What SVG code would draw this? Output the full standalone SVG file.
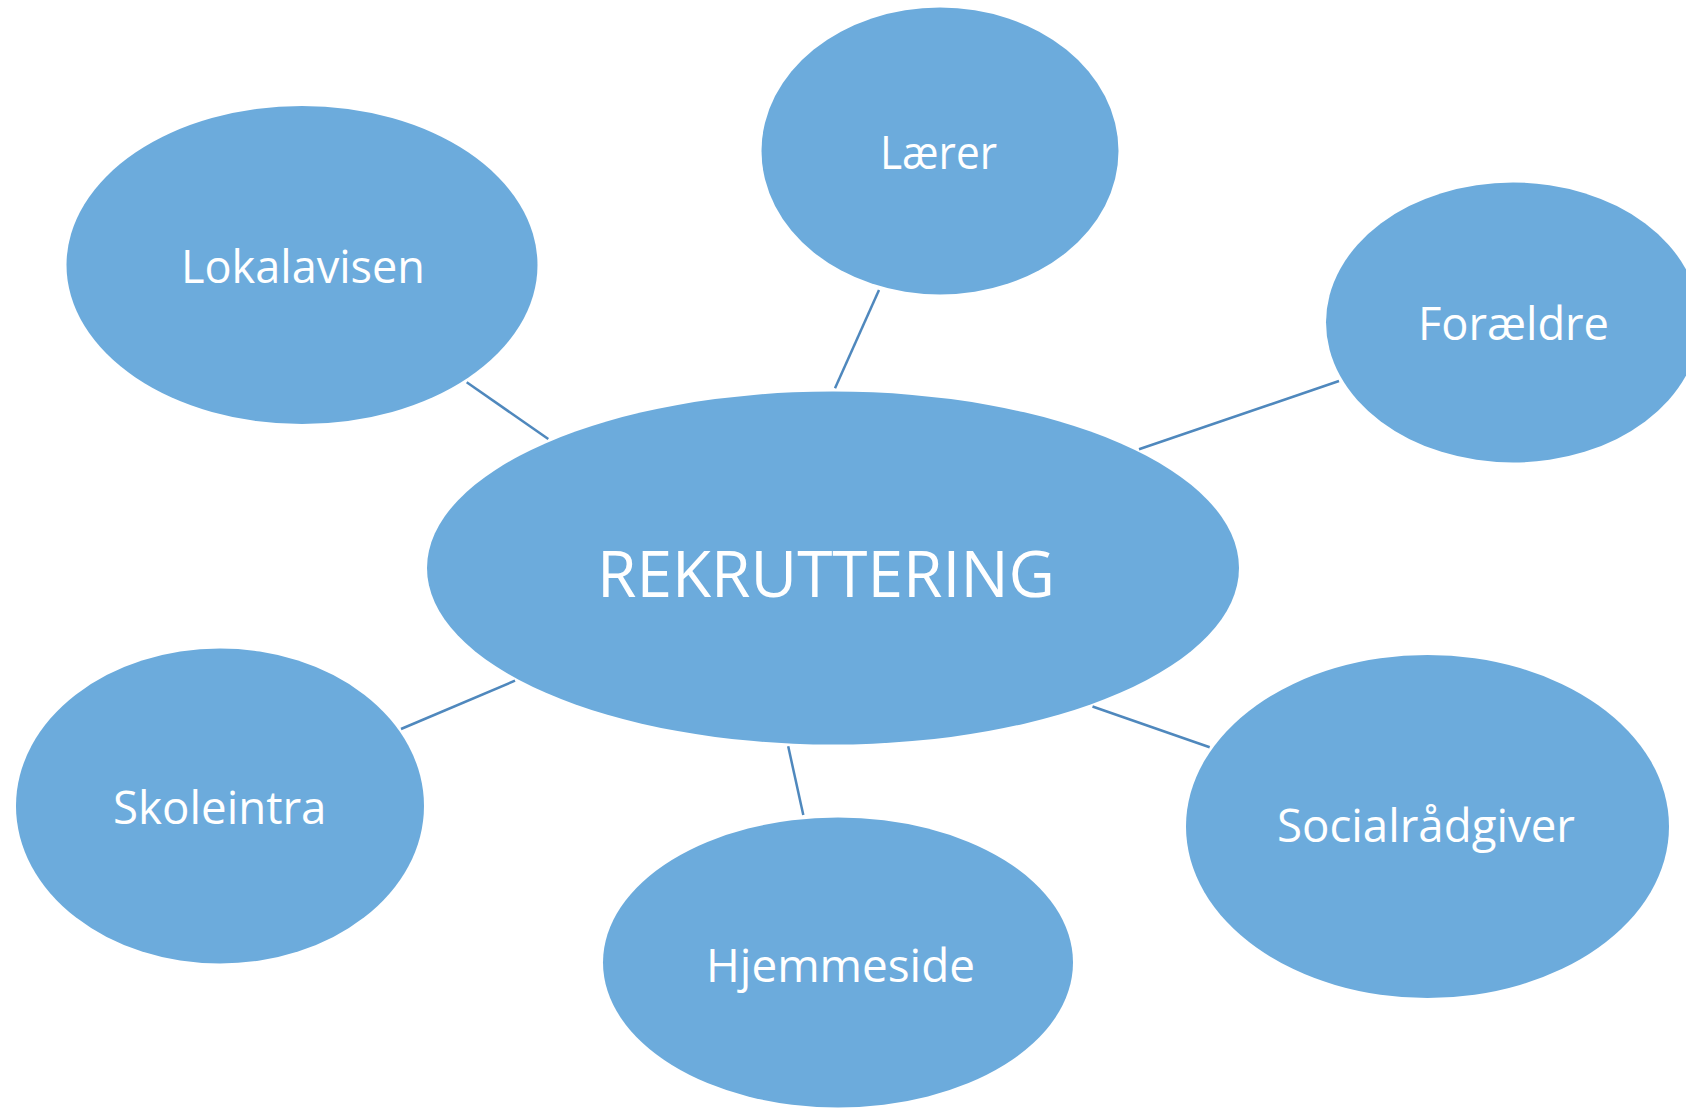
<svg xmlns="http://www.w3.org/2000/svg" width="1686" height="1108" viewBox="0 0 1686 1108">
<style>
.node{fill:#6cabdc;}
.lbl{fill:#ffffff;font-family:"Open Sans","Liberation Sans",sans-serif;font-size:46px;text-anchor:start;}
.big{font-size:64px;}
.conn{stroke:#4f88bd;stroke-width:2.5;fill:none;}
</style>
<rect width="1686" height="1108" fill="#ffffff"/>
<g id="connectors">
<line class="conn" x1="466.7" y1="382.3" x2="548.3" y2="439"/>
<line class="conn" x1="879" y1="290" x2="835" y2="388.3"/>
<line class="conn" x1="1339" y1="381" x2="1139" y2="449.3"/>
<line class="conn" x1="401" y1="729" x2="515" y2="680.7"/>
<line class="conn" x1="788.2" y1="746.3" x2="803.3" y2="815.1"/>
<line class="conn" x1="1092.5" y1="706.5" x2="1209.7" y2="747.3"/>
</g>
<g id="center">
<ellipse class="node" cx="833" cy="568" rx="406" ry="176.5"/>
<text class="lbl big" x="597" y="597" textLength="458" lengthAdjust="spacingAndGlyphs">REKRUTTERING</text>
</g>
<g id="laerer">
<ellipse class="node" cx="940" cy="151" rx="178.5" ry="143.5"/>
<text class="lbl" x="880" y="169" textLength="117" lengthAdjust="spacingAndGlyphs">Lærer</text>
</g>
<g id="lokalavisen">
<ellipse class="node" cx="302" cy="265" rx="235.5" ry="159"/>
<text class="lbl" x="181" y="283" textLength="244" lengthAdjust="spacingAndGlyphs">Lokalavisen</text>
</g>
<g id="foraeldre">
<ellipse class="node" cx="1513" cy="322.5" rx="187" ry="140"/>
<text class="lbl" x="1418" y="340" textLength="191" lengthAdjust="spacingAndGlyphs">Forældre</text>
</g>
<g id="skoleintra">
<ellipse class="node" cx="220" cy="806" rx="204" ry="157.5"/>
<text class="lbl" x="113" y="824" textLength="213.5" lengthAdjust="spacingAndGlyphs">Skoleintra</text>
</g>
<g id="hjemmeside">
<ellipse class="node" cx="838" cy="962.5" rx="235" ry="145"/>
<text class="lbl" x="706" y="981.5" textLength="269" lengthAdjust="spacingAndGlyphs">Hjemmeside</text>
</g>
<g id="socialraadgiver">
<ellipse class="node" cx="1427.5" cy="826.5" rx="241.5" ry="171.5"/>
<text class="lbl" x="1277" y="841.5" textLength="298" lengthAdjust="spacingAndGlyphs">Socialrådgiver</text>
</g>
</svg>
